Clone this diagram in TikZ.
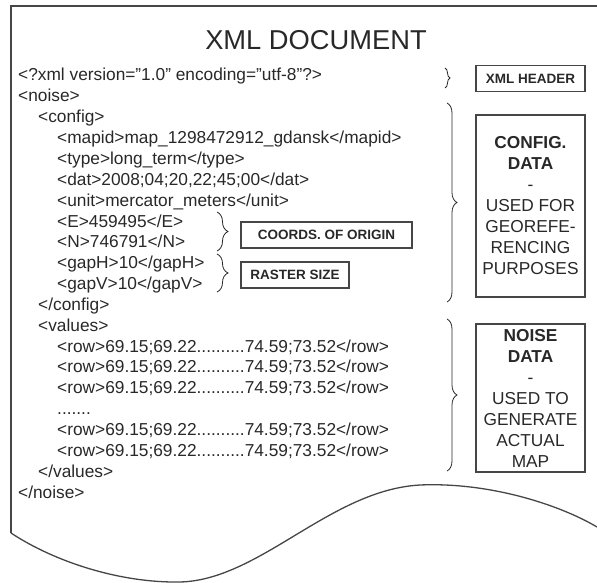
\documentclass[tikz,border=0pt]{standalone}
\usepackage{fontspec}
\setmainfont{Liberation Sans}
\usepackage{xcolor}
\definecolor{ink}{RGB}{40,40,40}
\definecolor{rule}{RGB}{70,70,70}
\usepackage{tikz}
\usetikzlibrary{decorations.pathreplacing,positioning}

\tikzset{
  code/.style={anchor=base west,inner sep=0pt,text=ink,font=\fontsize{17.3}{20}\selectfont},
  tag/.style={draw=rule,line width=1.3pt,minimum height=26pt,inner sep=0pt,text=ink,font=\bfseries\fontsize{13.5}{16}\selectfont},
  infobox/.style={draw=rule,line width=1.3pt,minimum width=109pt,inner sep=0pt,align=center,text=ink,font=\fontsize{17.3}{21}\selectfont},
  curly/.style={decorate,decoration={brace,amplitude=#1},draw=ink,line width=0.8pt},
  curly/.default=10pt
}

\begin{document}
\begin{tikzpicture}[x=1pt,y=-1pt]
  \useasboundingbox (0,0) rectangle (597,583);
  % page outline with the torn bottom
  \draw[rule,line width=2pt] (11,533) -- (11,6) -- (597,6);
  \draw[rule,line width=1.3pt] (11,533) .. controls (55,562) and (120,583) .. (180,582)
    .. controls (260,580) and (330,490) .. (420,485)
    .. controls (490,482) and (560,505) .. (597,527);
  \node[text=ink,font=\fontsize{27.3}{30}\selectfont] (title) at (316,40) {XML DOCUMENT};

  % the xml text
  \node[code] (xmldecl) at (18,81) {<?xml version="1.0" encoding="utf-8"?>};
  \node[code] (noiseopen) at (18,102) {<noise>};
  \node[code] (configopen) at (38,123) {<config>};
  \node[code] (mapid) at (57,144) {<mapid>map\_1298472912\_gdansk</mapid>};
  \node[code] (type) at (57,164.4) {<type>long\_term</type>};
  \node[code] (dat) at (57,185.3) {<dat>2008;04;20,22;45;00</dat>};
  \node[code] (unit) at (57,206.1) {<unit>mercator\_meters</unit>};
  \node[code] (east) at (57,227) {<E>459495</E>};
  \node[code] (north) at (57,247.8) {<N>746791</N>};
  \node[code] (gaph) at (57,268.7) {<gapH>10</gapH>};
  \node[code] (gapv) at (57,289.5) {<gapV>10</gapV>};
  \node[code] (configclose) at (38,310.4) {</config>};
  \node[code] (valuesopen) at (38,331.2) {<values>};
  \node[code] (rowa) at (57,352) {<row>69.15;69.22..........74.59;73.52</row>};
  \node[code] (rowb) at (57,372.9) {<row>69.15;69.22..........74.59;73.52</row>};
  \node[code] (rowc) at (57,393.8) {<row>69.15;69.22..........74.59;73.52</row>};
  \node[code] (skip) at (57,414.6) {.......};
  \node[code] (rowd) at (57,435.5) {<row>69.15;69.22..........74.59;73.52</row>};
  \node[code] (rowe) at (57,456.3) {<row>69.15;69.22..........74.59;73.52</row>};
  \node[code] (valuesclose) at (38,477.2) {</values>};
  \node[code] (noiseclose) at (18,498) {</noise>};

  % braces
  \coordinate (hdtop) at (445,68);
  \coordinate (hdbot) at (445,88);
  \coordinate (cftop) at (447,103);
  \coordinate (cfbot) at (447,302);
  \coordinate (nstop) at (447,319);
  \coordinate (nsbot) at (447,471);
  \coordinate (ortop) at (217,212);
  \coordinate (orbot) at (217,251);
  \coordinate (rstop) at (217,254);
  \coordinate (rsbot) at (217,292);
  \draw[curly=5pt] (hdtop) -- (hdbot);
  \draw[curly] (cftop) -- (cfbot);
  \draw[curly] (nstop) -- (nsbot);
  \draw[curly=11pt] (ortop) -- (orbot);
  \draw[curly=11pt] (rstop) -- (rsbot);

  % labels
  \node[tag,minimum width=109pt] (header) at (530.5,78.5) {XML HEADER};
  \node[tag,minimum width=171pt] (origin) at (326.5,235) {COORDS. OF ORIGIN};
  \node[tag,minimum width=108pt] (raster) at (295,275) {RASTER SIZE};
  \node[infobox,minimum height=182pt] (configbox) at (530.5,206)
    {\textbf{CONFIG.}\\\textbf{DATA}\\-\\USED FOR\\GEOREFE-\\RENCING\\PURPOSES};
  \node[infobox,minimum height=148pt] (noisebox) at (530.5,398)
    {\textbf{NOISE}\\\textbf{DATA}\\-\\USED TO\\GENERATE\\ACTUAL\\MAP};
\end{tikzpicture}
\end{document}
